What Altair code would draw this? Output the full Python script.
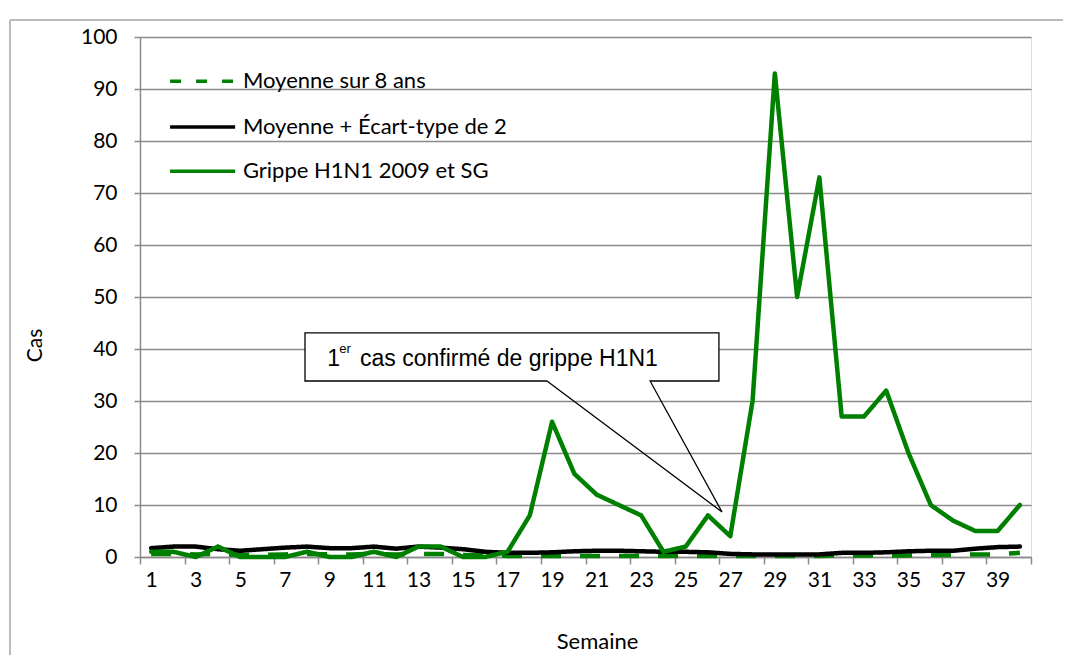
import altair as alt
import pandas as pd

weeks = list(range(1, 41))
moyenne = [0.6, 0.6, 0.5, 0.6, 0.4, 0.4, 0.5, 0.6, 0.5, 0.5,
           0.6, 0.5, 0.6, 0.6, 0.4, 0.3, 0.2, 0.2, 0.2, 0.2,
           0.2, 0.2, 0.2, 0.2, 0.2, 0.2, 0.2, 0.2, 0.2, 0.2,
           0.2, 0.3, 0.3, 0.3, 0.3, 0.4, 0.4, 0.5, 0.5, 0.8]
seuil = [1.7, 2.0, 2.0, 1.5, 1.2, 1.5, 1.8, 2.0, 1.7, 1.7,
         2.0, 1.6, 2.0, 1.8, 1.5, 1.0, 0.8, 0.8, 0.9, 1.1,
         1.2, 1.2, 1.1, 1.0, 1.0, 0.9, 0.6, 0.5, 0.5, 0.5,
         0.5, 0.8, 0.8, 0.9, 1.1, 1.2, 1.2, 1.6, 1.9, 2.0]
grippe = [1, 1, 0, 2, 0, 0, 0, 1, 0, 0,
          1, 0, 2, 2, 0, 0, 1, 8, 26, 16,
          12, 10, 8, 1, 2, 8, 4, 30, 93, 50,
          73, 27, 27, 32, 20, 10, 7, 5, 5, 10]
series_names = ["Moyenne sur 8 ans", "Moyenne + Écart-type de 2", "Grippe H1N1 2009 et SG"]
y_ticks = list(range(0, 101, 10))
x_label_weeks = list(range(1, 40, 2))
annot_num = "1"
annot_sup = "er"
annot_text = "cas confirmé de grippe H1N1"

rows = []
for name, vals in zip(series_names, [moyenne, seuil, grippe]):
    for w, v in zip(weeks, vals):
        rows.append({"Semaine": w, "Cas": v, "serie": name})
df = pd.DataFrame(rows)

GRID = "#8a8a8a"
GREEN = "#008000"
FONT = "Lato"

tick_positions = [w - 0.5 for w in weeks] + [weeks[-1] + 0.5]
label_set = ",".join(str(w) for w in x_label_weeks)

xscale = alt.Scale(domain=[0.5, 40.5], nice=False, zero=False)
yscale = alt.Scale(domain=[0, 100], nice=False)

x_axis = alt.Axis(
    values=tick_positions,
    labelExpr=f"indexof([{label_set}], datum.value + 0.5) >= 0 ? format(datum.value + 0.5, 'd') : ''",
    labelOffset=11.14, labelOverlap=False, labelFlush=False,
    grid=False, domainColor=GRID, domainWidth=1.5, tickColor=GRID, tickWidth=1.5,
    tickSize=7, labelFont=FONT, labelFontSize=21, labelColor="black",
    labelBaseline="middle", labelPadding=16,
    title="Semaine", titleFont=FONT, titleFontSize=22, titleFontWeight="normal",
    titleColor="black", titleX=457, titleY=91, titleBaseline="alphabetic", titleAlign="center",
)
y_axis = alt.Axis(
    values=y_ticks, grid=True, gridColor=GRID, gridWidth=1.5,
    domainColor=GRID, domainWidth=1.5, tickColor=GRID, tickWidth=1.5, tickSize=6,
    labelFont=FONT, labelFontSize=21, labelColor="black", labelPadding=17,
    title="Cas", titleFont=FONT, titleFontSize=21, titleFontWeight="normal",
    titleColor="black", titleAngle=270, titleX=-105, titleY=308,
    titleAlign="center", titleBaseline="middle",
)

one = pd.DataFrame({"k": [0]})

border_top = alt.Chart(one).mark_rule(color="#a6a6a6", strokeWidth=1.5).encode(
    x=alt.value(-130), x2=alt.value(1100), y=alt.value(-17)
)
border_left = alt.Chart(one).mark_rule(color="#a6a6a6", strokeWidth=1.5).encode(
    x=alt.value(-130), y=alt.value(-17), y2=alt.value(700)
)

base = alt.Chart(df)
axes_layer = base.mark_line(opacity=0).encode(
    x=alt.X("Semaine:Q", scale=xscale, axis=x_axis),
    y=alt.Y("Cas:Q", scale=yscale, axis=y_axis),
    detail="serie:N",
)

def series_layer(name, color, dash):
    return base.transform_filter(alt.datum.serie == name).mark_line(
        color=color, strokeWidth=4.5, strokeDash=dash, strokeCap="round" if dash == [1, 0] else "butt",
        strokeJoin="round",
    ).encode(x="Semaine:Q", y="Cas:Q")

l_moy = series_layer(series_names[0], GREEN, [20, 19])
l_seuil = series_layer(series_names[1], "black", [1, 0])
l_grippe = series_layer(series_names[2], GREEN, [1, 0])

# legend (inside plot, top-left)
leg_df = pd.DataFrame({"name": series_names, "ly": [91.5, 82.7, 74.2]})
color_scale = alt.Scale(domain=series_names, range=[GREEN, "black", GREEN])
dash_scale = alt.Scale(domain=series_names, range=[[11, 15], [1, 0], [1, 0]])
leg_rules = alt.Chart(leg_df).mark_rule(strokeWidth=3.5).encode(
    x=alt.datum(1.85), x2=alt.datum(4.77), y="ly:Q",
    color=alt.Color("name:N", scale=color_scale, legend=None),
    strokeDash=alt.StrokeDash("name:N", scale=dash_scale, legend=None),
)
leg_text = alt.Chart(leg_df).mark_text(
    align="left", baseline="middle", font=FONT, fontSize=22, color="black"
).encode(x=alt.datum(5.12), y="ly:Q", text="name:N")

# annotation callout
box = alt.Chart(one).mark_rect(fill="white").encode(
    x=alt.datum(7.907), x2=alt.datum(26.49), y=alt.datum(43.1), y2=alt.datum(33.85)
)
outline_df = pd.DataFrame({
    "o": list(range(8)),
    "ax": [18.77, 7.907, 7.907, 26.49, 26.49, 23.4, 26.63, 18.77],
    "ay": [33.85, 33.85, 43.1, 43.1, 33.85, 33.85, 8.65, 33.85],
})
outline = alt.Chart(outline_df).mark_line(color="black", strokeWidth=1.3, strokeJoin="miter").encode(
    x="ax:Q", y="ay:Q", order="o:Q"
)
t1 = alt.Chart(one).mark_text(align="left", baseline="alphabetic", font="Liberation Sans",
                              fontSize=23, color="black").encode(
    x=alt.datum(8.909), y=alt.datum(36.73), text=alt.value(annot_num))
t2 = alt.Chart(one).mark_text(align="left", baseline="alphabetic", font="Liberation Sans",
                              fontSize=13, color="black").encode(
    x=alt.datum(9.447), y=alt.datum(39.2), text=alt.value(annot_sup))
t3 = alt.Chart(one).mark_text(align="left", baseline="alphabetic", font="Liberation Sans",
                              fontSize=23, color="black").encode(
    x=alt.datum(10.377), y=alt.datum(36.73), text=alt.value(annot_text))

chart = alt.layer(
    border_top, border_left, axes_layer, l_moy, l_seuil, l_grippe, leg_rules, leg_text,
    box, outline, t1, t2, t3
).properties(
    width=891, height=520,
    autosize=alt.AutoSizeParams(type="none"),
    padding={"left": 132, "top": 29, "right": 32, "bottom": 98},
).configure_view(stroke=None).configure(background="white")

chart.save("out.html", embed_options={"renderer": "svg", "actions": False})
